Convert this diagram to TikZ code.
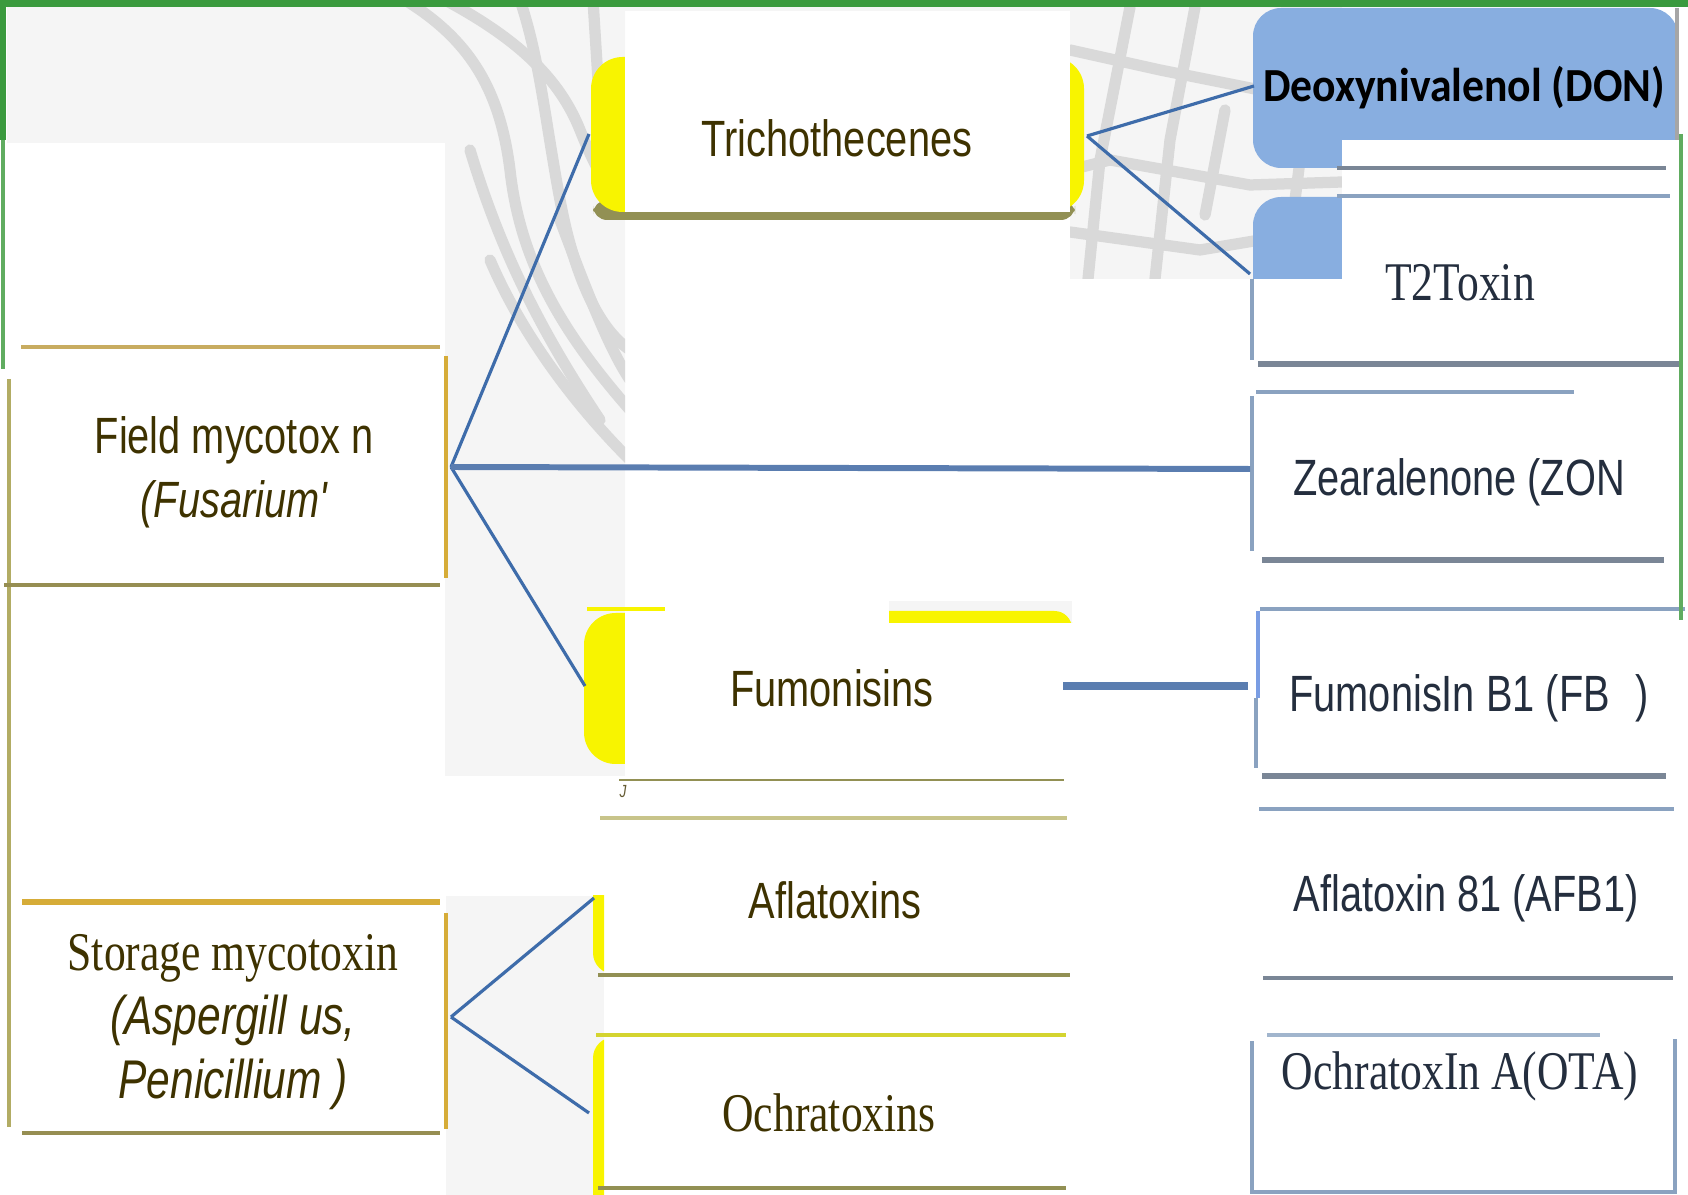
\documentclass[tikz,border=0pt]{standalone}
\usepackage{fontspec}
\usepackage{tikz}
\setmainfont{Liberation Serif}
\newfontfamily\narrowsans[FakeStretch=0.78]{Liberation Sans}
\newfontfamily\narrowserif[FakeStretch=0.8]{Liberation Serif}
\newfontfamily\donfont[FakeStretch=0.92]{Carlito}
\definecolor{olivetext}{RGB}{62,50,0}
\definecolor{slatetext}{RGB}{36,46,62}
\definecolor{linkblue}{RGB}{62,108,170}
\definecolor{barblue}{RGB}{90,125,176}
\definecolor{framegreen}{RGB}{58,154,62}
\definecolor{paleframe}{RGB}{96,172,96}
\definecolor{netgray}{RGB}{217,217,217}
\definecolor{bggray}{RGB}{245,245,245}
\definecolor{tabyellow}{RGB}{248,244,0}
\definecolor{shadeolive}{RGB}{146,144,84}
\definecolor{goldline}{RGB}{214,172,56}
\definecolor{sandline}{RGB}{200,172,96}
\definecolor{mossline}{RGB}{178,172,100}
\definecolor{paleolive}{RGB}{200,196,138}
\definecolor{limeline}{RGB}{212,212,48}
\definecolor{donblue}{RGB}{136,174,224}
\definecolor{steelline}{RGB}{122,134,150}
\definecolor{skyline}{RGB}{138,162,192}

\begin{document}
\begin{tikzpicture}[x=0.01cm,y=-0.01cm,
  sanslabel/.style={font=\narrowsans\fontsize{14.5}{18.2}\selectfont,align=center,inner sep=0pt},
  seriflabel/.style={font=\narrowserif\fontsize{15.5}{18.2}\selectfont,align=center,inner sep=0pt},
  link/.style={linkblue,line width=0.9pt},
  thicklink/.style={barblue,line width=2pt},
  netline/.style={netgray,line width=3.2pt,line cap=round}]
\useasboundingbox (0,0) rectangle (1688,1195);

% grey background with net
\begin{scope}
\clip (7,7) -- (1342,7) -- (1342,279) -- (1070,279) -- (1070,11) -- (625,11)
  -- (625,776) -- (445,776) -- (445,143) -- (7,143) -- cycle;
\fill[bggray] (0,0) rectangle (1400,800);
\draw[netline] (405,0) .. controls (470,40) and (500,90) .. (510,170)
  .. controls (520,260) and (560,330) .. (630,410);
\draw[netline] (445,0) .. controls (520,40) and (560,80) .. (580,130)
  .. controls (600,180) and (615,200) .. (630,210);
\draw[netline] (520,0) .. controls (540,60) and (545,120) .. (560,200)
  .. controls (575,280) and (600,330) .. (630,350);
\draw[netline] (470,150) .. controls (500,250) and (540,330) .. (600,420);
\draw[netline] (560,220) .. controls (590,300) and (610,350) .. (630,380);
\draw[netline] (490,260) .. controls (520,330) and (570,400) .. (630,460);
\draw[netline] (593,0) -- (598,80);
\draw[netline] (1130,7) -- (1100,160) -- (1088,279);
\draw[netline] (1070,50) -- (1160,70) -- (1260,90);
\draw[netline] (1070,170) -- (1110,160) -- (1250,185) -- (1342,182);
\draw[netline] (1195,7) -- (1170,140) -- (1155,279);
\draw[netline] (1225,110) -- (1205,215);
\draw[netline] (1070,232) -- (1200,250) -- (1260,240);
\draw[netline] (1300,160) -- (1295,200);
\end{scope}
\begin{scope}
\clip (446,896) rectangle (604,1195);
\fill[bggray] (446,896) rectangle (604,1195);
\fill[tabyellow,rounded corners=6] (593,860) rectangle (640,974);
\fill[tabyellow,rounded corners=6] (593,1037) rectangle (640,1230);
\end{scope}
\begin{scope}
\clip (889,601) rectangle (1072,623);
\fill[bggray] (889,601) rectangle (1072,623);
\fill[tabyellow,rounded corners=5] (860,611) rectangle (1072,640);
\end{scope}

% yellow tabs
\fill[shadeolive,rounded corners=4] (593,200) rectangle (1075,220);
\fill[tabyellow,rounded corners=9] (591,57) rectangle (1084,212);
\fill[white] (625,50) rectangle (1070,212.5);
\fill[tabyellow,rounded corners=9] (584,613) rectangle (660,764);
\fill[white] (625,600) rectangle (700,776);
\draw[tabyellow,line width=1.2pt] (587,609) -- (665,609);

% blue blocks
\fill[donblue,rounded corners=8] (1253,8) rectangle (1678,168);
\begin{scope}
\clip (1253,190) rectangle (1342,279);
\fill[donblue,rounded corners=8] (1253,197) rectangle (1380,320);
\end{scope}
\fill[white] (1342,140) rectangle (1680,280);
\draw[gray!70,line width=1pt] (1677,8) -- (1677,140);

% rules of the left boxes
\draw[sandline,line width=1.2pt] (21,347) -- (440,347);
\draw[mossline,line width=0.9pt] (9,379) -- (9,1127);
\draw[goldline,line width=1.2pt] (446,356) -- (446,578);
\draw[shadeolive!90!brown,line width=0.9pt] (4,585) -- (440,585);
\draw[goldline,line width=1.7pt] (22,902) -- (440,902);
\draw[goldline,line width=1.2pt] (446,913) -- (446,1129);
\draw[shadeolive!90!brown,line width=1.4pt] (22,1133) -- (440,1133);

% rules of the middle boxes
\draw[shadeolive,line width=0.45pt] (619,780) -- (1064,780);
\draw[paleolive,line width=1.1pt] (600,818) -- (1067,818);
\draw[shadeolive,line width=1.1pt] (598,975) -- (1070,975);
\draw[limeline,line width=1.1pt] (596,1035) -- (1066,1035);
\draw[shadeolive,line width=1.1pt] (598,1188) -- (1066,1188);

% rules of the right boxes
\draw[steelline,line width=1.4pt] (1337,168) -- (1666,168);
\draw[skyline,line width=0.9pt] (1337,196) -- (1670,196);
\draw[skyline,line width=1.1pt] (1252,279) -- (1252,360);
\draw[steelline,line width=1.7pt] (1258,364) -- (1682,364);
\draw[skyline,line width=1.1pt] (1256,392) -- (1574,392);
\draw[skyline,line width=1.1pt] (1252,396) -- (1252,551);
\draw[steelline,line width=1.7pt] (1262,560) -- (1664,560);
\draw[skyline,line width=1.1pt] (1260,609) -- (1685,609);
\draw[donblue!90!blue,line width=1.4pt] (1258,611) -- (1258,698);
\draw[skyline,line width=1.1pt] (1256,698) -- (1256,768);
\draw[steelline,line width=1.7pt] (1262,776) -- (1666,776);
\draw[skyline,line width=1.1pt] (1259,809) -- (1674,809);
\draw[steelline,line width=1.4pt] (1263,978) -- (1673,978);
\draw[skyline!80,line width=1.4pt] (1267,1035) -- (1600,1035);
\draw[skyline,line width=1.1pt] (1252,1041) -- (1252,1192) -- (1675,1192) -- (1675,1039);

% connectors
\coordinate (field-out) at (451,467);
\coordinate (tri-in) at (589,134);
\coordinate (zon-in) at (1250,469);
\coordinate (fum-in) at (585,686);
\coordinate (tri-out) at (1087,136);
\coordinate (don-in) at (1254,86);
\coordinate (t2-in) at (1250,274);
\coordinate (fum-out) at (1063,686);
\coordinate (fb-in) at (1248,686);
\coordinate (store-out) at (451,1017);
\coordinate (afla-in) at (594,898);
\coordinate (ochra-in) at (589,1113);
\draw[link] (field-out) -- (tri-in);
\draw[link] (field-out) -- (fum-in);
\draw[thicklink,line width=1.7pt] (field-out) -- (zon-in);
\draw[link] (tri-out) -- (don-in);
\draw[link] (tri-out) -- (t2-in);
\draw[thicklink] (fum-out) -- (fb-in);
\draw[link] (store-out) -- (afla-in);
\draw[link] (store-out) -- (ochra-in);

% labels
\node[sanslabel,text=olivetext] (field) at (234,472) {Field mycotox n\\\itshape (Fusarium'};
\node[seriflabel,text=olivetext] (storage) at (233,1022)
  {Storage mycotoxin\\{\narrowsans\itshape (Aspergill us,}\\{\narrowsans\itshape Penicillium )}};
\node[sanslabel,text=olivetext] (trich) at (837,138) {Trichothecenes};
\node[sanslabel,text=olivetext] (fum) at (832,688) {Fumonisins};
\node[font=\narrowsans\itshape\fontsize{5}{6}\selectfont,text=olivetext!80] (jmark) at (623,792) {J};
\node[sanslabel,text=olivetext] (afla) at (835,900) {Aflatoxins};
\node[seriflabel,text=olivetext] (ochra) at (829,1113) {Ochratoxins};
\node[font=\donfont\bfseries\fontsize{13.5}{16}\selectfont,inner sep=0pt] (don) at (1464,88) {Deoxynivalenol (DON)};
\node[seriflabel,text=slatetext] (t2) at (1460,283) {T2Toxin};
\node[sanslabel,text=slatetext] (zon) at (1459,482) {Zearalenone (ZON};
\node[sanslabel,text=slatetext] (fb1) at (1469,698) {FumonisIn B1 (FB\enspace)};
\node[sanslabel,text=slatetext] (afb1) at (1466,898) {Aflatoxin 81 (AFB1)};
\node[seriflabel,text=slatetext] (ota) at (1460,1076) {OchratoxIn A(OTA)};

% green frame
\draw[framegreen,line width=2pt] (0,3.5) -- (1688,3.5);
\draw[framegreen,line width=1.8pt] (3,0) -- (3,140);
\draw[paleframe,line width=1.4pt] (3,140) -- (3,369);
\draw[paleframe,line width=0.9pt] (1681,134) -- (1681,620);
\end{tikzpicture}
\end{document}
